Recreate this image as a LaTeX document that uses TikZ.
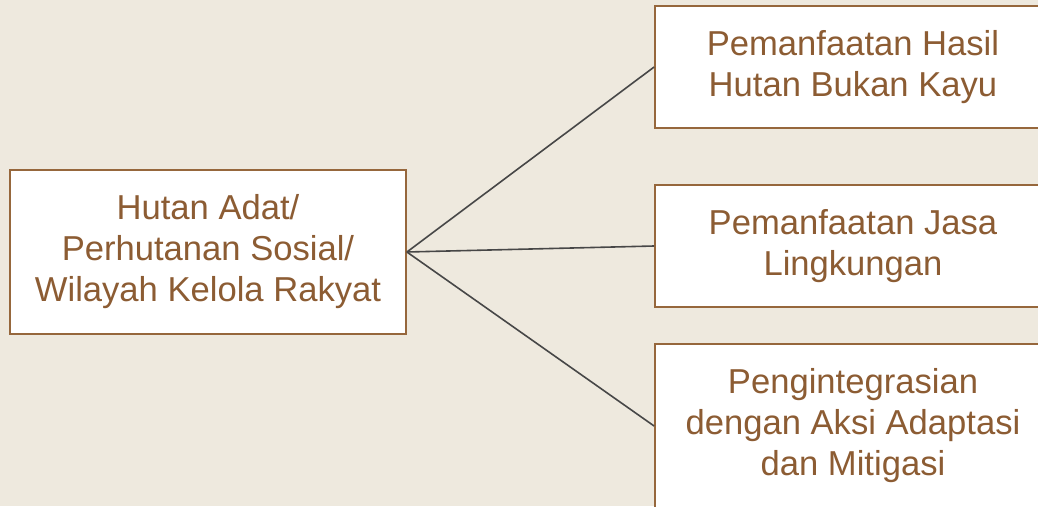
\documentclass[tikz,border=0pt]{standalone}
\usepackage{fontspec}
\setmainfont{Liberation Sans}

\definecolor{paper}{HTML}{EEE9DE}
\definecolor{bark}{HTML}{96673C}
\definecolor{inkbrown}{HTML}{8C5C33}
\definecolor{twig}{HTML}{474747}

\begin{document}
\begin{tikzpicture}[x=1pt,y=-1pt,
  textbox/.style={draw=bark,line width=1.8pt,fill=white,text=inkbrown,
    align=center,inner sep=0pt,font=\fontsize{34.6}{41}\selectfont},
  shortbox/.style={textbox,minimum width=396,minimum height=122},
  tallbox/.style={textbox,minimum width=396,minimum height=164},
  branch/.style={draw=twig,line width=1.6pt}]

% Paper background
\useasboundingbox (0,0) rectangle (1038,506);
\clip (0,0) rectangle (1038,506);
\fill[paper] (0,0) rectangle (1038,506);

% Source box
\node[tallbox] (hutan) at (208,252) {Hutan Adat/\\Perhutanan Sosial/\\Wilayah Kelola Rakyat};

% Target boxes
\node[shortbox] (hasil) at (853,67) {Pemanfaatan Hasil\\Hutan Bukan Kayu};
\node[shortbox] (jasa) at (853,246) {Pemanfaatan Jasa\\Lingkungan};
\node[tallbox] (adaptasi) at (853,426) {Pengintegrasian\\dengan Aksi Adaptasi\\dan Mitigasi};

% Branches
\foreach \target in {hasil,jasa,adaptasi}
{
\draw[branch] (hutan.east) -- (\target.west);
}

\end{tikzpicture}
\end{document}
